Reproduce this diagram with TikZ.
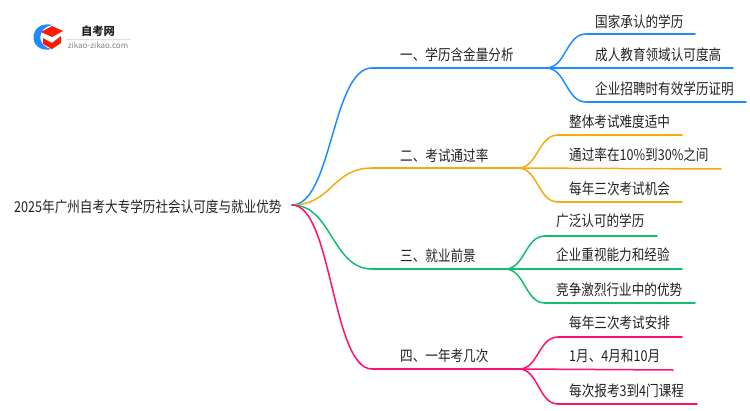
\documentclass[tikz,border=0pt]{standalone}
\usepackage{fontspec}
\setmainfont{Noto Sans CJK SC}
\newfontfamily\narrowcjk[FakeStretch=0.84]{Noto Sans CJK SC}
\usetikzlibrary{calc}
\definecolor{cblue}{HTML}{1E8CFF}
\definecolor{corange}{HTML}{F7A90F}
\definecolor{cgreen}{HTML}{10BE6E}
\definecolor{cpink}{HTML}{FF0F70}
\definecolor{txt}{HTML}{222222}
\tikzset{
  lab/.style={anchor=west,inner sep=0pt,text=txt,font=\narrowcjk\fontsize{15pt}{16pt}\selectfont},
  wire/.style={line width=1.5pt,line cap=round},
}
\newcommand{\curvelink}[3]{% colour, from, to
  \draw[wire,#1] (#2) .. controls ($(#2)!0.5!(#3 |- #2)$) and ($(#3)!0.5!(#2 |- #3)$) .. (#3);
}
\begin{document}
\begin{tikzpicture}[x=1pt,y=-1pt]
\useasboundingbox (0,0) rectangle (750,410);
% logo
\fill[cblue] (53,25) .. controls (28,19) and (26,55) .. (53,49) .. controls (36,48) and (36,27) .. (53,25) -- cycle;
\fill[red!80!orange] (41,32) -- (52,26) -- (63,31) -- (52,37) -- cycle;
\fill[red!80!orange] (43,38) -- (52,43) -- (61,36) -- (61,43) -- (52,49) -- (43,44) -- cycle;
\node[inner sep=0pt,text=txt,font=\fontsize{11.3pt}{12pt}\selectfont\bfseries] (logot) at (98,31) {自考网};
\node[inner sep=0pt,text=gray,font=\fontsize{8pt}{9pt}\selectfont] (logou) at (98,45) {zikao-zikao.com};
\draw[gray!25,line width=0.5pt] (66,39) -- (131,39);
% root
\node[lab] (root) at (14,207) {2025年广州自考大专学历社会认可度与就业优势};
\coordinate (r) at (292,205);
% branch 1
\node[lab] (b1) at (400,55) {一、学历含金量分析};
\coordinate (b1s) at (372,68); \coordinate (b1e) at (546,68);
\node[lab] (c11) at (595,22) {国家承认的学历};
\node[lab] (c12) at (595,55) {成人教育领域认可度高};
\node[lab] (c13) at (595,89) {企业招聘时有效学历证明};
\coordinate (c11s) at (586,34); \coordinate (c11e) at (695,34);
\coordinate (c12e) at (733,68);
\coordinate (c13s) at (586,102); \coordinate (c13e) at (746,102);
\curvelink{cblue}{r}{b1s}
\draw[wire,cblue] (b1s) -- (b1e);
\curvelink{cblue}{b1e}{c11s}
\draw[wire,cblue] (c11s) -- (c11e);
\draw[wire,cblue] (b1e) -- (c12e);
\curvelink{cblue}{b1e}{c13s}
\draw[wire,cblue] (c13s) -- (c13e);
% branch 2
\node[lab] (b2) at (400,156) {二、考试通过率};
\coordinate (b2s) at (372,168); \coordinate (b2e) at (518,168);
\node[lab] (c21) at (569,122) {整体考试难度适中};
\node[lab] (c22) at (569,155) {通过率在10\%到30\%之间};
\node[lab] (c23) at (569,189) {每年三次考试机会};
\coordinate (c21s) at (558,135); \coordinate (c21e) at (682,135);
\coordinate (c22e) at (721,169);
\coordinate (c23s) at (558,202); \coordinate (c23e) at (682,202);
\curvelink{corange}{r}{b2s}
\draw[wire,corange] (b2s) -- (b2e);
\curvelink{corange}{b2e}{c21s}
\draw[wire,corange] (c21s) -- (c21e);
\draw[wire,corange] (b2e) -- (c22e);
\curvelink{corange}{b2e}{c23s}
\draw[wire,corange] (c23s) -- (c23e);
% branch 3
\node[lab] (b3) at (400,256) {三、就业前景};
\coordinate (b3s) at (372,269); \coordinate (b3e) at (505,269);
\node[lab] (c31) at (556,221) {广泛认可的学历};
\node[lab] (c32) at (556,255) {企业重视能力和经验};
\node[lab] (c33) at (556,290) {竞争激烈行业中的优势};
\coordinate (c31s) at (545,236); \coordinate (c31e) at (657,236);
\coordinate (c32e) at (682,269);
\coordinate (c33s) at (545,303); \coordinate (c33e) at (695,303);
\curvelink{cgreen}{r}{b3s}
\draw[wire,cgreen] (b3s) -- (b3e);
\curvelink{cgreen}{b3e}{c31s}
\draw[wire,cgreen] (c31s) -- (c31e);
\draw[wire,cgreen] (b3e) -- (c32e);
\curvelink{cgreen}{b3e}{c33s}
\draw[wire,cgreen] (c33s) -- (c33e);
% branch 4
\node[lab] (b4) at (400,356) {四、一年考几次};
\coordinate (b4s) at (372,369); \coordinate (b4e) at (519,369);
\node[lab] (c41) at (569,323) {每年三次考试安排};
\node[lab] (c42) at (569,356) {1月、4月和10月};
\node[lab] (c43) at (569,391) {每次报考3到4门课程};
\coordinate (c41s) at (558,337); \coordinate (c41e) at (682,337);
\coordinate (c42e) at (673,370);
\coordinate (c43s) at (558,404); \coordinate (c43e) at (697,404);
\curvelink{cpink}{r}{b4s}
\draw[wire,cpink] (b4s) -- (b4e);
\curvelink{cpink}{b4e}{c41s}
\draw[wire,cpink] (c41s) -- (c41e);
\draw[wire,cpink] (b4e) -- (c42e);
\curvelink{cpink}{b4e}{c43s}
\draw[wire,cpink] (c43s) -- (c43e);
\end{tikzpicture}
\end{document}
